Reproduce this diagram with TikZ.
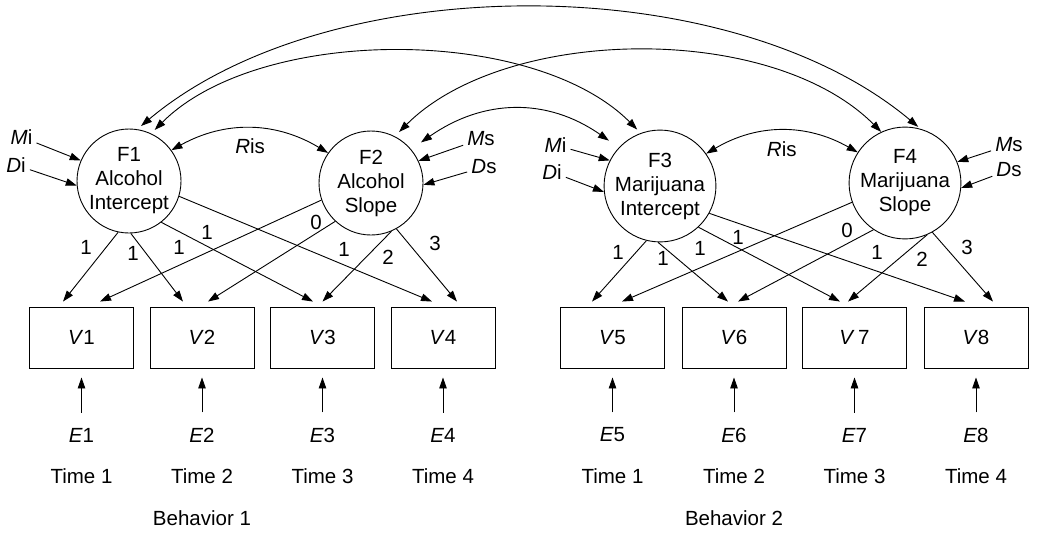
\documentclass[tikz,border=0pt]{standalone}
\usepackage{fontspec}
\setmainfont{Liberation Sans}
\usetikzlibrary{arrows.meta}
\begin{document}
\begin{tikzpicture}[x=1pt,y=-1pt,line width=0.9pt,
  every node/.style={font=\fontsize{20.5}{24}\selectfont,inner sep=0pt},
  factor/.style={draw,circle,minimum size=104pt,align=center},
  obs/.style={draw,rectangle,minimum width=104pt,minimum height=61pt},
  tipend/.tip={Triangle[length=11pt,width=7.5pt]},
  arr/.style={-tipend},
  darr/.style={tipend-tipend}]
\useasboundingbox (0,0) rectangle (1038,546);

% latent growth factors
\node[factor] (F1) at (129,181) {F1\\Alcohol\\Intercept};
\node[factor] (F2) at (371,183) {F2\\Alcohol\\Slope};
\node[factor] (F3) at (660,186) {F3\\Marijuana\\Intercept};
\node[factor] (F4) at (905,183) {F4\\Marijuana\\Slope};

% observed measures
\node[obs] (V1) at (81.5,337.5) {\textit{V}1};
\node[obs] (V2) at (202,337.5) {\textit{V}2};
\node[obs] (V3) at (322.5,337.5) {\textit{V}3};
\node[obs] (V4) at (443,337.5) {\textit{V}4};
\node[obs] (V5) at (612.5,337.5) {\textit{V}5};
\node[obs] (V6) at (734,337.5) {\textit{V}6};
\node[obs] (V7) at (854.5,337.5) {\textit{V}\,7};
\node[obs] (V8) at (976,337.5) {\textit{V}8};

% residuals
\node (E1) at (81.5,435) {\textit{E}1};
\node (E2) at (202,435) {\textit{E}2};
\node (E3) at (322.5,435) {\textit{E}3};
\node (E4) at (443,435) {\textit{E}4};
\node (E5) at (612.5,435) {\textit{E}5};
\node (E6) at (734,435) {\textit{E}6};
\node (E7) at (854.5,435) {\textit{E}7};
\node (E8) at (976,435) {\textit{E}8};
\foreach \i in {1,...,8}
  \draw[arr] ([yshift=15pt]E\i.north) -- ([yshift=-9pt]V\i.south);

% time and behaviour labels
\node (T1) at (81.5,476) {Time 1};
\node (T2) at (202,476) {Time 2};
\node (T3) at (322.5,476) {Time 3};
\node (T4) at (443,476) {Time 4};
\node (T5) at (612.5,476) {Time 1};
\node (T6) at (734,476) {Time 2};
\node (T7) at (854.5,476) {Time 3};
\node (T8) at (976,476) {Time 4};
\node (B1) at (202,518) {Behavior 1};
\node (B2) at (734,518) {Behavior 2};

% means and disturbances
\node (Mi1) at (21.5,137) {\textit{M}i};
\node (Di1) at (16,165) {\textit{D}i};
\node (Ms2) at (481,139) {\textit{M}s};
\node (Ds2) at (484,167) {\textit{D}s};
\node (Mi3) at (555.5,145) {\textit{M}i};
\node (Di3) at (552,172) {\textit{D}i};
\node (Ms4) at (1009,145) {\textit{M}s};
\node (Ds4) at (1009,170) {\textit{D}s};
\draw[arr,shorten <=4pt] (Mi1) -- (F1.157);
\draw[arr,shorten <=4pt] (Di1) -- (F1.185);
\draw[arr,shorten <=4pt] (Ms2) -- (F2.25);
\draw[arr,shorten <=4pt] (Ds2) -- (F2.358);
\draw[arr,shorten <=4pt] (Mi3) -- (F3.153);
\draw[arr,shorten <=4pt] (Di3) -- (F3.186);
\draw[arr,shorten <=4pt] (Ms4) -- (F4.22);
\draw[arr,shorten <=4pt] (Ds4) -- (F4.355);

% factor loadings, behaviour 1
\draw[arr] (F1.258) -- ([xshift=-18.5pt,yshift=5pt]V1.north);
\draw[arr] (F1.272) -- ([xshift=-19pt,yshift=5pt]V2.north);
\draw[arr] (F1.308) -- ([xshift=-9.5pt,yshift=5pt]V3.north);
\draw[arr] (F1.343) -- ([xshift=-11pt,yshift=5pt]V4.north);
\draw[arr] (F2.199) -- ([xshift=18.5pt,yshift=5pt]V1.north);
\draw[arr] (F2.227) -- ([xshift=6pt,yshift=5pt]V2.north);
\draw[arr] (F2.293) -- ([xshift=0pt,yshift=5pt]V3.north);
\draw[arr] (F2.299) -- ([xshift=14pt,yshift=5pt]V4.north);

% factor loadings, behaviour 2
\draw[arr] (F3.256) -- ([xshift=-20.5pt,yshift=5pt]V5.north);
\draw[arr] (F3.268) -- ([xshift=-6pt,yshift=5pt]V6.north);
\draw[arr] (F3.313) -- ([xshift=-14.5pt,yshift=5pt]V7.north);
\draw[arr] (F3.331) -- ([xshift=-11pt,yshift=5pt]V8.north);
\draw[arr] (F4.200) -- ([xshift=9.5pt,yshift=5pt]V5.north);
\draw[arr] (F4.236) -- ([xshift=4pt,yshift=5pt]V6.north);
\draw[arr] (F4.293) -- ([xshift=-6.5pt,yshift=5pt]V7.north);
\draw[arr] (F4.299) -- ([xshift=17pt,yshift=5pt]V8.north);

% loading values
\node (a1) at (86,247) {1};
\node (a2) at (133,253) {1};
\node (a3) at (179,247) {1};
\node (a4) at (207,232) {1};
\node (b1) at (316,222) {0};
\node (b2) at (344,249) {1};
\node (b3) at (388,257) {2};
\node (b4) at (435,243) {3};
\node (c1) at (618,252) {1};
\node (c2) at (663,258) {1};
\node (c3) at (700,248) {1};
\node (c4) at (738,237) {1};
\node (d1) at (847,230) {0};
\node (d2) at (877,252) {1};
\node (d3) at (922,259) {2};
\node (d4) at (967,247) {3};

% intercept-slope covariances
\draw[darr] (F1.36) to[bend left=30] node[pos=0.5,yshift=-18pt] (R1) {\textit{R}is} (F2.145);
\draw[darr] (F3.35) to[bend left=30] node[pos=0.5,yshift=-18pt] (R2) {\textit{R}is} (F4.147);

% cross-behaviour covariances
\draw[darr,shorten <=12pt,shorten >=12pt] (F2.40) to[out=35,in=145,looseness=1.08] (F3.137);
\draw[darr,shorten <=5pt,shorten >=5pt] (F1.65) to[out=45,in=135,looseness=0.80] (F3.110);
\draw[darr,shorten <=6pt] (F2.63) to[out=45,in=135,looseness=0.82] (F4.115);
\draw[darr,shorten <=5pt,shorten >=3pt] (F1.81) to[out=40,in=140,looseness=0.82] (F4.74);
\end{tikzpicture}
\end{document}
